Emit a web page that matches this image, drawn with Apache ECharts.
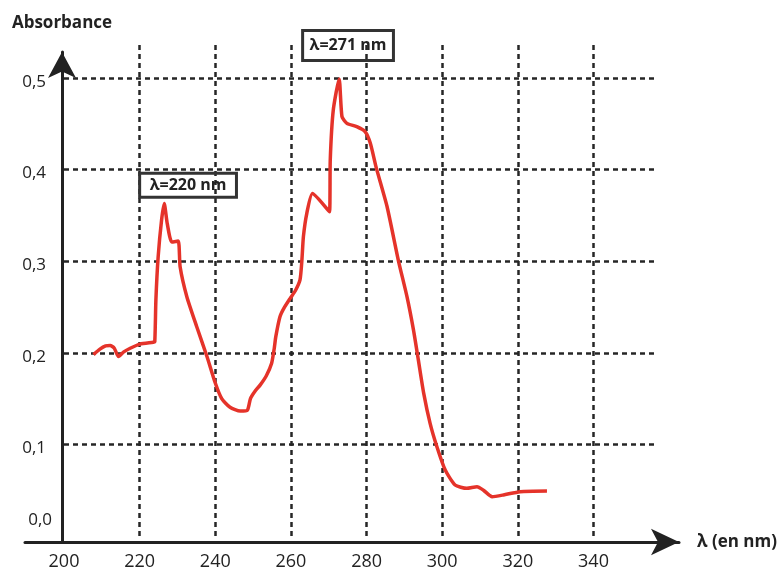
<!DOCTYPE html>
<html>
<head>
<meta charset="utf-8">
<script src="https://cdn.jsdelivr.net/npm/echarts@6/dist/echarts.min.js"></script>
<style>html,body{margin:0;padding:0;background:#fff;}#c{width:782px;height:572px;}</style>
</head>
<body>
<div id="c"></div>
<script>
const wavelengths = [207.8,209.5,211.0,212.2,213.3,214.4,215.8,217.5,220.1,223.6,224.0,224.3,224.9,225.8,226.5,227.3,228.5,230.2,230.7,232.5,235.1,237.8,240.0,241.7,243.9,246.6,248.5,249.3,250.5,251.9,253.5,254.9,255.6,256.0,257.1,258.2,259.8,261.2,262.4,262.9,263.3,264.2,265.7,270.2,270.4,271.2,272.75,273.5,274.8,277.4,279.6,281.0,282.5,285.4,288.4,290.7,292.4,293.7,295.1,296.8,298.6,300.8,303.4,306.5,309.2,310.9,313.2,316.2,320.6,327.7];
const absorbance = [0.198,0.204,0.2075,0.208,0.205,0.196,0.201,0.205,0.2095,0.2115,0.212,0.258,0.305,0.345,0.363,0.341,0.321,0.322,0.294,0.261,0.2285,0.196,0.167,0.150,0.1405,0.1365,0.1375,0.150,0.158,0.165,0.175,0.1885,0.205,0.2176,0.2394,0.249,0.2594,0.268,0.2795,0.301,0.3268,0.3523,0.374,0.354,0.4105,0.465,0.499,0.4578,0.4505,0.4468,0.4414,0.4287,0.403,0.360,0.301,0.261,0.225,0.192,0.156,0.123,0.0975,0.072,0.0557,0.052,0.0538,0.050,0.0429,0.0448,0.0484,0.0491];
const xTickLabels = ['200','220','240','260','280','300','320','340'];
const yTickLabels = ['0,0','0,1','0,2','0,3','0,4','0,5'];
const annotationTexts = ['λ=220 nm','λ=271 nm'];
const annotationNm = [232.8, 275.1];
const annotationAbs = [0.383, 0.5355];

const FONT = 'Open Sans';
const gridLine = {show:true, showMinLine:false, showMaxLine:false, lineStyle:{type:[5,4], color:'#262626', width:2.5}};
const chart = echarts.init(document.getElementById('c'), null, {renderer:'canvas'});
chart.setOption({
  animation:false,
  backgroundColor:'#fff',
  grid:[
    {left:64, right:128, top:45, bottom:36, containLabel:false, outerBoundsMode:'none'},
    {left:25, right:103, top:45, bottom:30, containLabel:false, outerBoundsMode:'none'},
    {left:62, right:719, top:52, bottom:30, containLabel:false, outerBoundsMode:'none'}
  ],
  xAxis:[
    {type:'value', gridIndex:0, min:200, max:356, interval:20,
     axisLine:{show:false}, axisTick:{show:false},
     axisLabel:{show:true, showMaxLabel:false, margin:17, fontSize:18, fontFamily:FONT, color:'#222',
       formatter:function(v){const i=Math.round((v-200)/20); return (Math.abs(v-200-20*i)<1e-6 && xTickLabels[i])?xTickLabels[i]:'';}},
     splitLine:gridLine},
    {type:'value', gridIndex:1, min:0, max:1,
     axisLine:{show:true, onZero:false, symbol:['none','arrow'], symbolSize:[20,28], lineStyle:{color:'#222', width:3}},
     axisTick:{show:false}, axisLabel:{show:false}, splitLine:{show:false},
     name:'λ (en nm)', nameLocation:'end', nameGap:18,
     nameTextStyle:{fontSize:17, fontWeight:'bold', fontFamily:FONT, color:'#222'}},
    {type:'value', gridIndex:2, min:0, max:1, show:false}
  ],
  yAxis:[
    {type:'value', gridIndex:0, min:0, max:0.536, interval:0.1,
     axisLine:{show:false}, axisTick:{show:false},
     axisLabel:{show:true, showMaxLabel:false, margin:12, fontSize:17, fontFamily:FONT, color:'#222',
       formatter:function(v){const i=Math.round(v*10); return i===0?'{z|'+yTickLabels[0]+'}':'{n|'+yTickLabels[i]+'}';},
       rich:{
         n:{fontSize:17, fontFamily:FONT, color:'#222', padding:[8,6,0,0]},
         z:{fontSize:17, fontFamily:FONT, color:'#222', padding:[0,0,32,0]}
       }},
     splitLine:gridLine},
    {type:'value', gridIndex:1, min:0, max:1, show:false},
    {type:'value', gridIndex:2, min:0, max:1,
     axisLine:{show:true, onZero:false, symbol:['none','arrow'], symbolSize:[21,26], lineStyle:{color:'#222', width:3}},
     axisTick:{show:false}, axisLabel:{show:false}, splitLine:{show:false},
     name:'Absorbance', nameLocation:'end', nameGap:20,
     nameTextStyle:{fontSize:17, fontWeight:'bold', fontFamily:FONT, color:'#222'}}
  ],
  series:[{
    type:'line', xAxisIndex:0, yAxisIndex:0, z:5,
    data: wavelengths.map((w,i)=>[w, absorbance[i]]),
    symbol:'none', smooth:0.2,
    lineStyle:{color:'#e5332a', width:3.5, join:'round'},
    markPoint:{
      symbol:'rect', symbolSize:0, silent:true,
      data: annotationTexts.map((t,i)=>({name:t, coord:[annotationNm[i], annotationAbs[i]],
        label:{padding: i===0?[3,10,3,10]:[6,7,6,7]}})),
      label:{show:true, position:'inside', formatter:'{b}', fontSize:16, fontWeight:'bold', fontFamily:FONT,
        color:'#222', lineHeight:18, borderColor:'#333', borderWidth:1.5, backgroundColor:'transparent'}
    }
  }]
});
</script>
</body>
</html>
